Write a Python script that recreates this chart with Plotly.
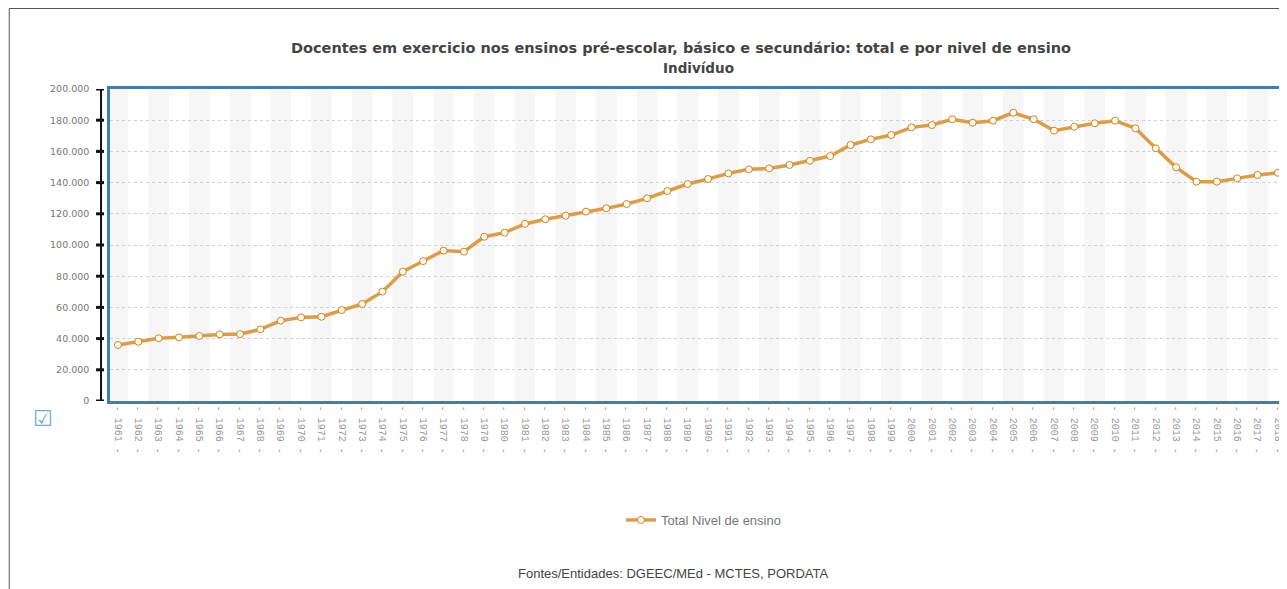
import plotly.graph_objects as go

years = list(range(1961, 2019))
docentes = [35900, 38000, 40200, 40800, 41700, 42700, 42900, 45900, 51500, 53600,
            54000, 58300, 62200, 70100, 82900, 89700, 96400, 95700, 105300, 107900,
            113500, 116500, 118800, 121400, 123500, 126300, 129900, 134600, 139100, 142300,
            145900, 148500, 149100, 151300, 154000, 157000, 164100, 167700, 170500, 175400,
            176900, 180600, 178400, 179700, 184800, 180600, 173300, 175800, 178000, 179700,
            174800, 162000, 149800, 140600, 140600, 142700, 144900, 146300]
x_labels = [f"- {y} -" for y in years]
y_ticks = [0, 20000, 40000, 60000, 80000, 100000, 120000, 140000, 160000, 180000, 200000]

title_text = "Docentes em exercicio nos ensinos pré-escolar, básico e secundário: total e por nivel de ensino"
subtitle_text = "Indivíduo"
series_name = "Total Nivel de ensino"
source_text = "Fontes/Entidades: DGEEC/MEd - MCTES, PORDATA"

OFF = 8  # page body margin
SW, SH = 1287, 589
W, H = SW - OFF, SH - OFF
L = 110 - OFF
R = 0
T = 89 - OFF
B = H - (401 - OFF)
pw = W - L - R
ph = H - T - B

def px_x(p):
    return (p - OFF - L) / pw

def px_y(p):
    return (H - B - (p - OFF)) / ph

fig = go.Figure()
fig.add_trace(go.Scatter(
    x=years, y=docentes, mode="lines+markers", name=series_name,
    line=dict(color="#dc9d4a", width=3.5),
    marker=dict(symbol="circle", size=7, color="#fffbe8", line=dict(color="#c98630", width=1)),
))

shapes = []
for i, yr in enumerate(years):
    if i % 2 == 0:
        shapes.append(dict(type="rect", xref="x", yref="paper", x0=yr - 0.5, x1=yr + 0.5,
                           y0=0, y1=1, fillcolor="#f6f6f6", line=dict(width=0), layer="below"))
shapes.append(dict(type="line", xref="paper", yref="paper", x0=px_x(101), x1=px_x(101),
                   y0=0, y1=1, line=dict(color="#111", width=2)))
for v in y_ticks:
    shapes.append(dict(type="line", xref="paper", yref="y", x0=px_x(96), x1=px_x(104),
                       y0=v, y1=v, line=dict(color="#111", width=3)))
shapes.append(dict(type="line", xref="paper", yref="paper", x0=px_x(9), x1=1.0,
                   y0=px_y(8.5), y1=px_y(8.5), line=dict(color="#555", width=1)))
shapes.append(dict(type="line", xref="paper", yref="paper", x0=px_x(9), x1=px_x(9),
                   y0=px_y(8.5), y1=px_y(589), line=dict(color="#555", width=1)))

annotations = [
    dict(text="<b>" + title_text + "</b>", xref="paper", yref="paper", x=px_x(682), y=px_y(48),
         showarrow=False, font=dict(family="DejaVu Sans", size=14.5, color="#444"),
         xanchor="center", yanchor="middle"),
    dict(text="<b>" + subtitle_text + "</b>", xref="paper", yref="paper", x=px_x(700), y=px_y(68),
         showarrow=False, font=dict(family="DejaVu Sans", size=13.5, color="#444"),
         xanchor="center", yanchor="middle"),
    dict(text=source_text, xref="paper", yref="paper", x=px_x(674), y=px_y(573),
         showarrow=False, font=dict(family="Liberation Sans", size=13, color="#444"),
         xanchor="center", yanchor="middle"),
    dict(text="☑", xref="paper", yref="paper", x=px_x(43), y=px_y(418),
         showarrow=False, font=dict(family="DejaVu Sans", size=22, color="#6aaed6"),
         xanchor="center", yanchor="middle"),
]

fig.update_layout(
    width=W, height=H,
    margin=dict(l=L, r=R, t=T, b=B),
    paper_bgcolor="white", plot_bgcolor="white",
    separators=",.",
    showlegend=True,
    legend=dict(orientation="h", x=px_x(705), y=px_y(520), xanchor="center", yanchor="middle",
                font=dict(family="Liberation Sans", size=13, color="#777"), itemwidth=30),
    shapes=shapes,
    annotations=annotations,
)
fig.update_xaxes(
    range=[1960.61, 2018.3], tickmode="array", tickvals=years, ticktext=x_labels,
    tickangle=90, tickfont=dict(family="Liberation Mono", size=10, color="#999"),
    showgrid=False, zeroline=False,
    showline=True, linecolor="#3d7fb0", linewidth=2.5, mirror=True, ticks="",
)
fig.update_yaxes(
    range=[0, 200000], tickmode="array", tickvals=y_ticks, tickformat=",d",
    tickfont=dict(family="DejaVu Sans", size=9.5, color="#777"),
    showgrid=True, gridcolor="#d0d0d0", griddash="dot", gridwidth=1, zeroline=False,
    showline=True, linecolor="#3d7fb0", linewidth=2.5, mirror=True, ticks="",
    ticklabelstandoff=16,
)

fig.write_html("out.html")
